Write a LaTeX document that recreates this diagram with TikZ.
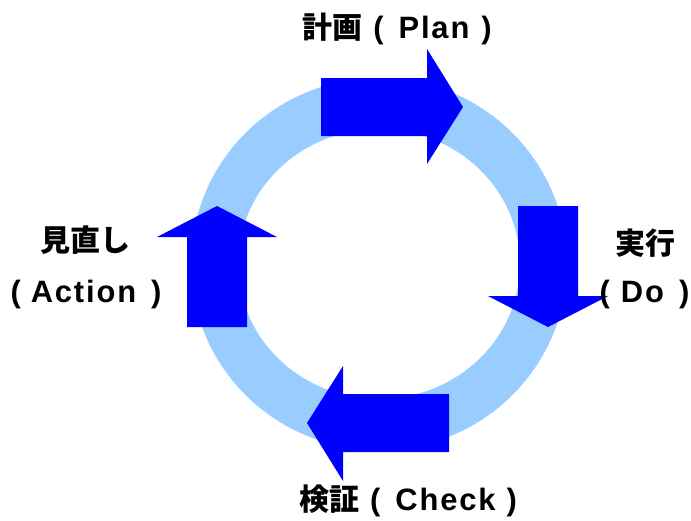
\documentclass[tikz,border=0pt]{standalone}
\usepackage{fontspec}
\newfontfamily\jp{Noto Sans CJK JP}
\newfontfamily\lat{Liberation Sans}[LetterSpace=6,Scale=1.03]
\definecolor{ringblue}{HTML}{99CCFF}
\definecolor{arrowblue}{HTML}{0000FF}
\begin{document}
\begin{tikzpicture}[x=1pt,y=-1pt,
  arr/.style={fill=arrowblue,draw=none},
  lab/.style={anchor=base,inner sep=0pt,font=\fontsize{30}{36}\selectfont\bfseries}]
\useasboundingbox (0,0) rectangle (691,520);
% ring
\fill[ringblue,even odd rule] (379,264) ellipse [x radius=188pt,y radius=186pt]
  (379,264) ellipse [x radius=141pt,y radius=135pt];
% arrows
\fill[arr] (321,78) -- (427,78) -- (427,49) -- (463,107) -- (427,164) -- (427,136) -- (321,136) -- cycle;
\fill[arr] (518,206) -- (578,206) -- (578,296) -- (608,296) -- (548,327) -- (488,296) -- (518,296) -- cycle;
\fill[arr] (449,394) -- (343,394) -- (343,366) -- (307,423) -- (343,481) -- (343,452) -- (449,452) -- cycle;
\fill[arr] (187,327) -- (187,237) -- (157,237) -- (217,206) -- (277,237) -- (247,237) -- (247,327) -- cycle;
% labels
\node[lab] (plan) at (397,38) {{\jp 計画}\hspace{11pt}{\lat(}\hspace{15pt}{\lat Plan}\hspace{12pt}{\lat)}};
\node[lab] (check) at (408,510) {{\jp 検証}\hspace{11pt}{\lat(}\hspace{15pt}{\lat Check}\hspace{11pt}{\lat)}};
\node[lab] (act1) at (85,251) {\jp 見直し};
\node[lab] (act2) at (86,302) {{\lat(}\hspace{10pt}{\lat Action}\hspace{15pt}{\lat)}};
\node[lab] (do1) at (645,254) {\jp 実行};
\node[lab] (do2) at (644.5,302) {{\lat(}\hspace{11pt}{\lat Do}\hspace{15pt}{\lat)}};
\end{tikzpicture}
\end{document}
